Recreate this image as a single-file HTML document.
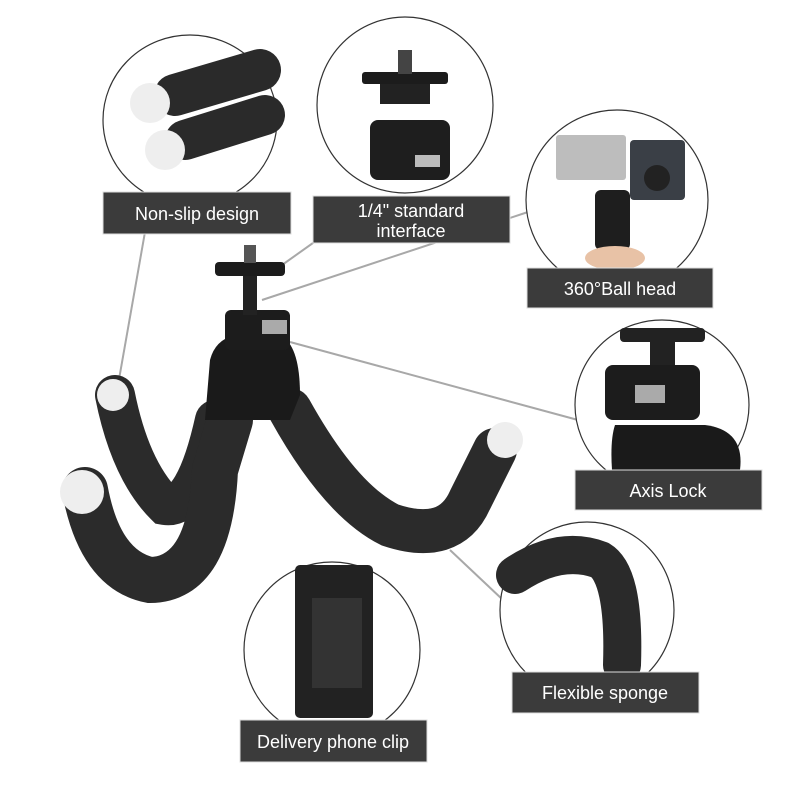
<!DOCTYPE html>
<html><head><meta charset="utf-8"><style>
html,body{margin:0;padding:0;background:#fff;}
svg{display:block}
text{font-family:"Liberation Sans",sans-serif;fill:#fff;font-size:18px;text-anchor:middle}
</style></head><body>
<svg width="800" height="800" viewBox="0 0 800 800">
<rect width="800" height="800" fill="#fff"/>
<g stroke="#a8a8a8" stroke-width="2" fill="none">
<line x1="145" y1="232" x2="118" y2="385"/>
<line x1="320" y1="238" x2="275" y2="270"/>
<line x1="528" y1="212" x2="262" y2="300"/>
<line x1="290" y1="342" x2="578" y2="420"/>
<line x1="450" y1="550" x2="503" y2="600"/>
</g>
<g fill="#fff" stroke="#333" stroke-width="1.2">
<ellipse cx="190" cy="120" rx="87" ry="85"/>
<ellipse cx="405" cy="105" rx="88" ry="88"/>
<ellipse cx="617" cy="200" rx="91" ry="90"/>
<ellipse cx="662" cy="405" rx="87" ry="85"/>
<ellipse cx="587" cy="610" rx="87" ry="88"/>
<ellipse cx="332" cy="650" rx="88" ry="88"/>
</g>
<g stroke="#2a2a2a" stroke-linecap="round" fill="none">
<path d="M175 95 L260 70" stroke-width="42"/>
<path d="M185 140 L265 115" stroke-width="40"/>
</g>
<circle cx="150" cy="103" r="20" fill="#eee"/><circle cx="165" cy="150" r="20" fill="#eee"/>
<rect x="362" y="72" width="86" height="12" rx="3" fill="#1c1c1c"/>
<rect x="398" y="50" width="14" height="24" fill="#444"/>
<rect x="380" y="84" width="50" height="20" fill="#222"/>
<rect x="370" y="120" width="80" height="60" rx="8" fill="#1e1e1e"/>
<rect x="415" y="155" width="25" height="12" fill="#bbb"/>
<rect x="556" y="135" width="70" height="45" rx="3" fill="#bdbdbd"/>
<rect x="630" y="140" width="55" height="60" rx="4" fill="#3a3f46"/>
<circle cx="657" cy="178" r="13" fill="#222"/>
<rect x="595" y="190" width="35" height="60" rx="6" fill="#1e1e1e"/>
<ellipse cx="615" cy="258" rx="30" ry="12" fill="#e8c2a6"/>
<rect x="620" y="328" width="85" height="14" rx="4" fill="#222"/>
<rect x="650" y="342" width="25" height="25" fill="#222"/>
<rect x="605" y="365" width="95" height="55" rx="8" fill="#1c1c1c"/>
<rect x="635" y="385" width="30" height="18" fill="#aaa"/>
<path d="M615 425 Q610 440 612 470 L740 470 Q745 430 705 425 Z" fill="#1a1a1a"/>
<path d="M515 575 Q560 545 600 560 Q625 575 622 665" stroke="#2a2a2a" stroke-width="38" fill="none" stroke-linecap="round"/>
<rect x="295" y="565" width="78" height="153" rx="5" fill="#222"/>
<rect x="312" y="598" width="50" height="90" fill="#333"/>
<g stroke-linecap="round" fill="none">
<path d="M115 395 Q130 470 165 505 Q195 510 215 420" stroke="#2b2b2b" stroke-width="40"/>
<path d="M85 490 Q100 570 150 580 Q210 580 215 470 L230 420" stroke="#2b2b2b" stroke-width="46"/>
<path d="M290 410 Q340 500 390 525 Q450 545 470 500 L495 450" stroke="#2b2b2b" stroke-width="44"/>
</g>
<circle cx="113" cy="395" r="16" fill="#eee"/>
<circle cx="82" cy="492" r="22" fill="#eee"/>
<circle cx="505" cy="440" r="18" fill="#eee"/>
<path d="M210 360 Q215 340 235 335 L280 335 Q300 345 300 395 L290 420 L205 420 Z" fill="#1a1a1a"/>
<rect x="225" y="310" width="65" height="40" rx="6" fill="#1c1c1c"/>
<rect x="262" y="320" width="25" height="14" fill="#aaa"/>
<rect x="243" y="270" width="14" height="45" fill="#222"/>
<rect x="215" y="262" width="70" height="14" rx="4" fill="#1c1c1c"/>
<rect x="244" y="245" width="12" height="18" fill="#555"/>
<g fill="#3b3b3b" stroke="#ddd" stroke-width="1">
<rect x="103" y="192" width="188" height="42"/>
<rect x="313" y="196" width="197" height="47"/>
<rect x="527" y="268" width="186" height="40"/>
<rect x="575" y="470" width="187" height="40"/>
<rect x="512" y="672" width="187" height="41"/>
<rect x="240" y="720" width="187" height="42"/>
</g>
<text x="197" y="220">Non-slip design</text>
<text x="411" y="217">1/4" standard</text>
<text x="411" y="237">interface</text>
<text x="620" y="295">360°Ball head</text>
<text x="668" y="497">Axis Lock</text>
<text x="605" y="699">Flexible sponge</text>
<text x="333" y="748">Delivery phone clip</text>
</svg>
</body></html>
